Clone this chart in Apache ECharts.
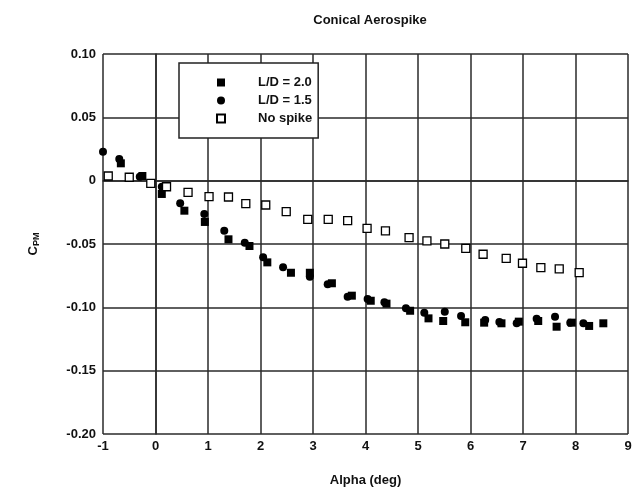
<!DOCTYPE html>
<html>
<head>
<meta charset="utf-8">
<script src="https://cdn.jsdelivr.net/npm/echarts@6/dist/echarts.min.js"></script>
<style>
  html, body { margin: 0; padding: 0; background: #fff; }
  #chart { width: 644px; height: 496px; }
</style>
</head>
<body>
<div id="chart"></div>
<script>
  // data (alpha in deg, C_PM)
  var ld20Alpha = [-0.66, -0.25, 0.12, 0.55, 0.94, 1.39, 1.79, 2.13, 2.58, 2.94, 3.36, 3.74, 4.10, 4.40, 4.85, 5.20, 5.48, 5.90, 6.26, 6.59, 6.92, 7.29, 7.64, 7.93, 8.26, 8.53];
  var ld20Cpm   = [0.0137, 0.0037, -0.0105, -0.0237, -0.0326, -0.0463, -0.0516, -0.0645, -0.0727, -0.0727, -0.0810, -0.0908, -0.0948, -0.0971, -0.1027, -0.1087, -0.1108, -0.1118, -0.1121, -0.1126, -0.1113, -0.1108, -0.1153, -0.1121, -0.1147, -0.1126];

  var ld15Alpha = [-1.00, -0.69, -0.30, 0.12, 0.47, 0.93, 1.31, 1.70, 2.05, 2.43, 2.94, 3.28, 3.66, 4.04, 4.36, 4.77, 5.12, 5.51, 5.82, 6.28, 6.55, 6.88, 7.26, 7.61, 7.90, 8.15];
  var ld15Cpm   = [0.0229, 0.0171, 0.0031, -0.0048, -0.0179, -0.0263, -0.0395, -0.0490, -0.0605, -0.0684, -0.0759, -0.0818, -0.0916, -0.0934, -0.0960, -0.1008, -0.1042, -0.1034, -0.1068, -0.1100, -0.1116, -0.1126, -0.1090, -0.1074, -0.1121, -0.1126];

  var noSpikeAlpha = [-0.90, -0.50, -0.09, 0.21, 0.62, 1.02, 1.39, 1.72, 2.10, 2.49, 2.90, 3.29, 3.66, 4.03, 4.38, 4.83, 5.17, 5.51, 5.91, 6.24, 6.68, 6.99, 7.34, 7.69, 8.07];
  var noSpikeCpm   = [0.0037, 0.0027, -0.0021, -0.0048, -0.0092, -0.0126, -0.0129, -0.0182, -0.0192, -0.0245, -0.0305, -0.0305, -0.0316, -0.0376, -0.0397, -0.0450, -0.0476, -0.0500, -0.0534, -0.0581, -0.0613, -0.0652, -0.0687, -0.0697, -0.0726];

  var seriesNames = ['L/D = 2.0', 'L/D = 1.5', 'No spike'];

  function pairs(xs, ys) {
    return xs.map(function (x, i) { return [x, ys[i]]; });
  }

  var font = "'Liberation Sans Narrow', 'Liberation Sans', Arial, sans-serif";
  var gridLine = { color: '#2a2a2a', width: 1.5 };

  var chart = echarts.init(document.getElementById('chart'));
  var option = {
    animation: false,
    backgroundColor: '#fff',
    textStyle: { fontFamily: font },
    title: {
      text: 'Conical Aerospike',
      left: 365,
      textAlign: 'center',
      top: 9,
      textStyle: { fontFamily: font, fontSize: 13, fontWeight: 'bold', color: '#111' }
    },
    legend: {
      orient: 'vertical',
      left: 179,
      top: 63,
      padding: [13, 6, 13, 37],
      itemGap: 5,
      itemWidth: 8,
      itemHeight: 8,
      borderColor: '#222',
      borderWidth: 1.5,
      backgroundColor: '#fff',
      data: [
        { name: seriesNames[0], icon: 'rect' },
        { name: seriesNames[1], icon: 'circle' },
        { name: seriesNames[2], icon: 'rect' }
      ],
      textStyle: { fontFamily: font, fontSize: 13, fontWeight: 'bold', color: '#111', padding: [0, 0, 0, 28] }
    },
    grid: { left: 103, right: 16, top: 54, bottom: 62 },
    xAxis: {
      type: 'value',
      min: -1,
      max: 9,
      interval: 1,
      name: 'Alpha (deg)',
      nameLocation: 'middle',
      nameGap: 40,
      nameTextStyle: { fontFamily: font, fontSize: 13, fontWeight: 'bold', color: '#111' },
      axisLine: { lineStyle: gridLine },
      axisTick: { show: false },
      axisLabel: { fontFamily: font, fontSize: 13, fontWeight: 'bold', color: '#111', margin: 6 },
      splitLine: { show: true, lineStyle: gridLine }
    },
    yAxis: {
      type: 'value',
      min: -0.2,
      max: 0.1,
      interval: 0.05,
      name: '{c|C}{s|PM}',
      nameLocation: 'middle',
      nameRotate: 90,
      nameGap: 62,
      nameTextStyle: {
        rich: {
          c: { fontFamily: font, fontSize: 13, fontWeight: 'bold', color: '#111' },
          s: { fontFamily: font, fontSize: 9, fontWeight: 'bold', color: '#111', verticalAlign: 'bottom', padding: [6, 0, 0, 0] }
        }
      },
      axisLine: { lineStyle: gridLine },
      axisTick: { show: false },
      axisLabel: {
        fontFamily: font, fontSize: 13, fontWeight: 'bold', color: '#111', margin: 7,
        formatter: function (v) { return Math.abs(v) < 1e-9 ? '0' : v.toFixed(2); }
      },
      splitLine: { show: true, lineStyle: gridLine }
    },
    series: [
      {
        name: seriesNames[0],
        type: 'scatter',
        symbol: 'rect',
        symbolSize: 8,
        itemStyle: { color: '#000', opacity: 1 },
        data: pairs(ld20Alpha, ld20Cpm),
        z: 3
      },
      {
        name: seriesNames[1],
        type: 'scatter',
        symbol: 'circle',
        symbolSize: 8,
        itemStyle: { color: '#000', opacity: 1 },
        data: pairs(ld15Alpha, ld15Cpm),
        z: 2
      },
      {
        name: seriesNames[2],
        type: 'scatter',
        symbol: 'rect',
        symbolSize: 8,
        itemStyle: { color: '#fff', borderColor: '#000', borderWidth: 1.3, opacity: 1 },
        data: pairs(noSpikeAlpha, noSpikeCpm),
        z: 4
      }
    ]
  };
  chart.setOption(option);
</script>
</body>
</html>
